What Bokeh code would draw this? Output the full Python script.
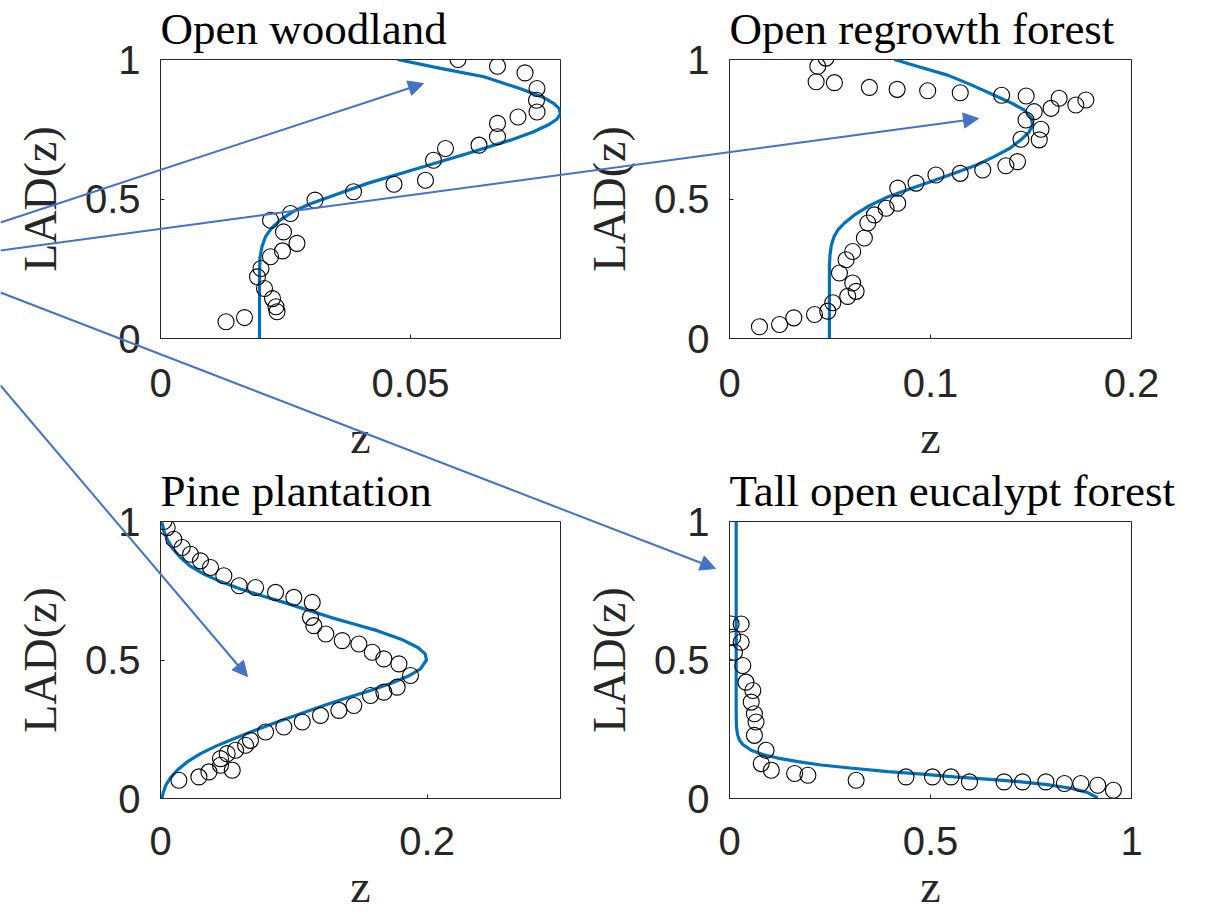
from bokeh.plotting import figure
from bokeh.models import Range1d, FixedTicker, GridBox, Column, Arrow, NormalHead, ColumnDataSource
from bokeh.embed import file_html
from bokeh.resources import INLINE

# ---------------- data ----------------
TITLES = ["Open woodland", "Open regrowth forest", "Pine plantation", "Tall open eucalypt forest"]
X_LABEL = "z"
Y_LABEL = "LAD(z)"

# Open woodland
OW_X = [0.0595, 0.0674, 0.0729, 0.0753, 0.0752, 0.0753, 0.0715, 0.0674, 0.0674, 0.0637,
        0.0570, 0.0546, 0.0530, 0.0467, 0.0386, 0.0309, 0.0260, 0.0220, 0.0246, 0.0273,
        0.0244, 0.0220, 0.0201, 0.0194, 0.0208, 0.0224, 0.0231, 0.0233, 0.0131, 0.0168]
OW_Y = [1.000, 0.976, 0.952, 0.896, 0.854, 0.812, 0.794, 0.771, 0.723, 0.693,
        0.681, 0.639, 0.567, 0.553, 0.526, 0.496, 0.448, 0.424, 0.382, 0.341,
        0.314, 0.293, 0.251, 0.221, 0.179, 0.143, 0.114, 0.096, 0.060, 0.075]
OW_FIT_X = [0.0198, 0.0198, 0.0199, 0.0203, 0.0210, 0.0222, 0.0240, 0.0265, 0.0300, 0.0350,
            0.0414, 0.0514, 0.0614, 0.0700, 0.0745, 0.0775, 0.0792, 0.0800, 0.0797, 0.0787,
            0.0765, 0.0720, 0.0647, 0.0560, 0.0474]
OW_FIT_Y = [0.000, 0.233, 0.290, 0.330, 0.365, 0.395, 0.425, 0.455, 0.483, 0.515,
            0.556, 0.609, 0.663, 0.711, 0.740, 0.765, 0.785, 0.805, 0.825, 0.842,
            0.865, 0.895, 0.938, 0.968, 1.000]

# Open regrowth forest
OR_X = [0.048, 0.0439, 0.0431, 0.0522, 0.0696, 0.0834, 0.0986, 0.1148, 0.1354, 0.1476,
        0.164, 0.1773, 0.1723, 0.160, 0.1516, 0.1475, 0.155, 0.1541, 0.145, 0.1433,
        0.1375, 0.126, 0.1148, 0.1027, 0.0928, 0.0837, 0.0837, 0.0779, 0.0721, 0.0688,
        0.0671, 0.0613, 0.058, 0.0547, 0.0613, 0.063, 0.0588, 0.0514, 0.0489, 0.0423,
        0.032, 0.0249, 0.0149]
OR_Y = [1.005, 0.976, 0.920, 0.917, 0.900, 0.893, 0.888, 0.881, 0.872, 0.869,
        0.861, 0.855, 0.837, 0.825, 0.813, 0.783, 0.750, 0.712, 0.714, 0.634,
        0.619, 0.604, 0.592, 0.586, 0.557, 0.539, 0.485, 0.467, 0.443, 0.414,
        0.360, 0.312, 0.282, 0.235, 0.199, 0.169, 0.151, 0.128, 0.098, 0.086,
        0.074, 0.050, 0.042]
OR_FIT_X = [0.0497, 0.0497, 0.0500, 0.0507, 0.0520, 0.0540, 0.0572, 0.0620, 0.0688, 0.0780,
            0.0886, 0.1000, 0.1118, 0.1230, 0.1317, 0.1395, 0.1450, 0.1490, 0.1508, 0.1500,
            0.1466, 0.1400, 0.1317, 0.1200, 0.1085, 0.0950, 0.0820]
OR_FIT_Y = [0.000, 0.259, 0.300, 0.335, 0.365, 0.390, 0.414, 0.442, 0.473, 0.505,
            0.533, 0.562, 0.592, 0.622, 0.652, 0.682, 0.712, 0.740, 0.765, 0.792,
            0.819, 0.845, 0.872, 0.910, 0.944, 0.972, 1.000]

# Pine plantation
PP_X = [0.0025, 0.005, 0.010, 0.0163, 0.0225, 0.030, 0.0375, 0.0475, 0.059, 0.0713,
        0.0863, 0.100, 0.1138, 0.1125, 0.115, 0.124, 0.1363, 0.1488, 0.1588, 0.1675,
        0.1788, 0.1875, 0.1775, 0.1675, 0.1575, 0.145, 0.1338, 0.120, 0.1063, 0.0925,
        0.0788, 0.0675, 0.0638, 0.0563, 0.050, 0.045, 0.0538, 0.045, 0.0363, 0.0288,
        0.0138]
PP_Y = [1.000, 0.978, 0.936, 0.906, 0.882, 0.858, 0.834, 0.804, 0.768, 0.762,
        0.744, 0.726, 0.708, 0.654, 0.624, 0.594, 0.570, 0.558, 0.528, 0.504,
        0.486, 0.444, 0.402, 0.384, 0.372, 0.336, 0.318, 0.300, 0.276, 0.258,
        0.240, 0.210, 0.192, 0.174, 0.162, 0.144, 0.102, 0.120, 0.096, 0.078,
        0.066]
PP_FIT_X = [0.0010, 0.0020, 0.0040, 0.0075, 0.0125, 0.0200, 0.0300, 0.0420, 0.0550, 0.0710,
            0.0875, 0.1050, 0.1225, 0.1400, 0.1575, 0.1730, 0.1860, 0.1950, 0.1995, 0.1985,
            0.1930, 0.1820, 0.1625, 0.1450, 0.1275, 0.1100, 0.0925, 0.0760, 0.0600, 0.0450,
            0.0325, 0.0220, 0.0150, 0.0090, 0.0050, 0.0025, 0.0012]
PP_FIT_Y = [0.000, 0.020, 0.048, 0.075, 0.102, 0.132, 0.162, 0.190, 0.216, 0.246,
            0.276, 0.306, 0.336, 0.364, 0.390, 0.416, 0.442, 0.468, 0.500, 0.522,
            0.545, 0.572, 0.606, 0.630, 0.654, 0.681, 0.708, 0.732, 0.756, 0.783,
            0.810, 0.840, 0.870, 0.903, 0.936, 0.966, 0.996]

# Tall open eucalypt forest
TE_X = [0.004, 0.029, 0.008, 0.029, 0.0124, 0.033, 0.041, 0.058, 0.054, 0.062,
        0.066, 0.062, 0.091, 0.079, 0.104, 0.162, 0.195, 0.315, 0.439, 0.505,
        0.551, 0.597, 0.683, 0.729, 0.787, 0.833, 0.874, 0.916, 0.955]
TE_Y = [0.630, 0.630, 0.582, 0.564, 0.528, 0.480, 0.420, 0.390, 0.348, 0.306,
        0.276, 0.228, 0.174, 0.126, 0.102, 0.090, 0.084, 0.066, 0.078, 0.078,
        0.078, 0.060, 0.060, 0.060, 0.060, 0.054, 0.054, 0.048, 0.030]
TE_FIT_X = [0.0166, 0.0166, 0.0166, 0.0175, 0.0200, 0.0250, 0.0330, 0.0540, 0.0850, 0.1200,
            0.1700, 0.2280, 0.3000, 0.3940, 0.4800, 0.5590, 0.6400, 0.7250, 0.7900, 0.8490,
            0.8900, 0.9160]
TE_FIT_Y = [1.000, 0.576, 0.300, 0.258, 0.230, 0.210, 0.195, 0.174, 0.158, 0.146,
            0.133, 0.121, 0.110, 0.097, 0.088, 0.078, 0.070, 0.060, 0.050, 0.037,
            0.022, 0.002]

X_MAX = [0.08, 0.2, 0.3, 1.0]
X_TICKS = [[0, 0.05], [0, 0.1, 0.2], [0, 0.2], [0, 0.5, 1]]
X_TICK_LABELS = [["0", "0.05"], ["0", "0.1", "0.2"], ["0", "0.2"], ["0", "0.5", "1"]]
Y_TICKS = [0, 0.5, 1]
Y_TICK_LABELS = ["0", "0.5", "1"]

SERIES = [(OW_X, OW_Y, OW_FIT_X, OW_FIT_Y), (OR_X, OR_Y, OR_FIT_X, OR_FIT_Y),
          (PP_X, PP_Y, PP_FIT_X, PP_FIT_Y), (TE_X, TE_Y, TE_FIT_X, TE_FIT_Y)]

# ---------------- layout (page pixels) ----------------
W, H = 1222, 919
# per panel: left, top, width, height, border left/right/top/bottom
PANEL_BOX = [
    (0, -11, 580, 488, 160, 20, 70, 139),
    (580, -11, 642, 488, 148, 91, 70, 139),
    (0, 451, 580, 468, 160, 20, 70, 121),
    (580, 451, 642, 468, 148, 91, 70, 121),
]
X_TICK_STANDOFF = [30, 30, 28, 28]
X_LABEL_STANDOFF = [12, 12, 3, 3]

# annotation arrows (page pixel coordinates, origin top-left)
ARROW_START_X = [0, 0, 0, 0]
ARROW_START_Y = [222, 250, 292, 385]
ARROW_END_X = [423, 978, 715, 247]
ARROW_END_Y = [83, 118, 568, 676]

INK = "#262626"
BLUE = "#0072BD"
ARROW_BLUE = "#4472C4"
SANS = "Liberation Sans"
SERIF = "Liberation Serif"


def make_panel(i):
    _, _, w, h, bl, br, bt, bb = PANEL_BOX[i]
    p = figure(width=w, height=h, output_backend="svg", toolbar_location=None,
               x_range=Range1d(0, X_MAX[i]), y_range=Range1d(0, 1),
               min_border_left=bl, min_border_right=br, min_border_top=bt, min_border_bottom=bb,
               title=TITLES[i])
    p.title.text_font = SERIF
    p.title.text_font_size = "45px"
    p.title.text_font_style = "normal"
    p.title.text_color = "black"
    p.title.align = "left"
    p.title.standoff = 12
    p.grid.visible = False
    p.outline_line_color = INK
    p.outline_line_width = 1
    p.background_fill_color = "white"
    p.border_fill_color = None

    xs, ys, fx, fy = SERIES[i]
    p.line(fx, fy, line_color=BLUE, line_width=3.2)
    p.scatter(xs, ys, marker="circle", size=16, fill_color=None, line_color="black", line_width=1.1)

    for ax, ticks, labels in ((p.xaxis[0], X_TICKS[i], X_TICK_LABELS[i]),
                              (p.yaxis[0], Y_TICKS, Y_TICK_LABELS)):
        ax.ticker = FixedTicker(ticks=ticks)
        ax.major_label_overrides = {t: l for t, l in zip(ticks, labels)}
        ax.minor_tick_line_color = None
        ax.major_tick_in = 4
        ax.major_tick_out = 0
        ax.major_tick_line_color = INK
        ax.axis_line_color = INK
        ax.major_label_text_font = SANS
        ax.major_label_text_font_size = "40px"
        ax.major_label_text_color = INK
        ax.axis_label_text_font = SERIF
        ax.axis_label_text_font_size = "46px"
        ax.axis_label_text_font_style = "normal"
        ax.axis_label_text_color = INK
    p.xaxis.axis_label = X_LABEL
    p.yaxis.axis_label = Y_LABEL
    p.xaxis.major_label_standoff = X_TICK_STANDOFF[i]
    p.xaxis.axis_label_standoff = X_LABEL_STANDOFF[i]
    p.yaxis.major_label_standoff = 20
    p.yaxis.axis_label_standoff = 16
    p.yaxis.major_label_orientation = "horizontal"
    return p


panels = [make_panel(i) for i in range(4)]

ov = figure(width=W, height=H, output_backend="svg", toolbar_location=None,
            x_range=Range1d(0, W), y_range=Range1d(H, 0),
            x_axis_type=None, y_axis_type=None,
            min_border=0, min_border_left=0, min_border_right=0,
            min_border_top=0, min_border_bottom=0)
ov.grid.visible = False
ov.outline_line_color = None
ov.background_fill_color = None
ov.border_fill_color = None
arrow_src = ColumnDataSource(dict(x0=ARROW_START_X, y0=ARROW_START_Y, x1=ARROW_END_X, y1=ARROW_END_Y))
ov.add_layout(Arrow(source=arrow_src, x_start="x0", y_start="y0", x_end="x1", y_end="y1",
                    line_color=ARROW_BLUE, line_width=2,
                    end=NormalHead(size=15, fill_color=ARROW_BLUE, line_color=ARROW_BLUE, line_width=1)))


def place(item, left, top):
    return Column(children=[item], margin=(top, 0, 0, left))


children = []
for i, p in enumerate(panels):
    left, top = PANEL_BOX[i][0], PANEL_BOX[i][1]
    children.append((place(p, left, top), 0, 0))
children.append((place(ov, 0, 0), 0, 0))

layout = GridBox(children=children, width=W, height=H, spacing=0, styles={"overflow": "hidden"})

open("out.html", "w").write(file_html(layout, INLINE))
